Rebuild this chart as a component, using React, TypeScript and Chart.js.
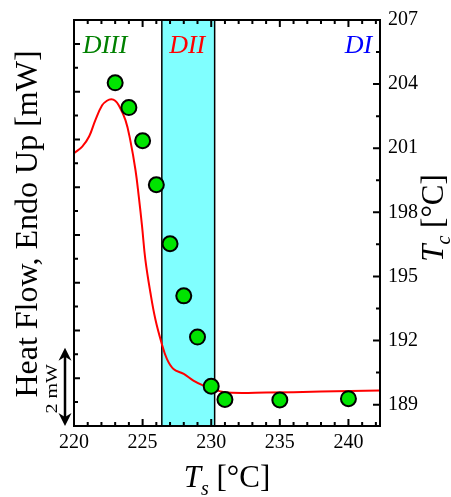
import React, { useEffect, useRef } from 'react';
import { Chart, registerables } from 'chart.js';

Chart.register(...registerables);

// ---- data ----
const tsValues = [223, 224, 225, 226, 227, 228, 229, 230, 231, 235, 240];
const tcValues = [204.06, 202.9, 201.35, 199.29, 196.53, 194.09, 192.16, 189.86, 189.24, 189.22, 189.28];

const dscT = [220.0, 220.6, 221.1, 221.55, 222.05, 222.4, 222.72, 223.0, 223.26, 223.75, 224.1, 224.48, 224.72, 224.96, 225.2, 225.57, 225.93, 226.37, 226.77, 227.25, 228.0, 228.7, 229.4, 230.0, 230.6, 231.5, 234.0, 238.0, 242.3];
const dscHeat = [11.42, 11.7, 12.12, 12.8, 13.43, 13.62, 13.68, 13.62, 13.43, 12.81, 11.97, 10.72, 9.61, 8.36, 6.97, 5.58, 4.47, 3.5, 2.81, 2.39, 2.18, 1.9, 1.7, 1.58, 1.46, 1.39, 1.4, 1.44, 1.49];

const xMajorTicks = [220, 225, 230, 235, 240];
const rightMajorTicks = [189, 192, 195, 198, 201, 204, 207];

const regionNames = ['DIII', 'DII', 'DI'];
const regionColors = ['#008000', '#ff0000', '#0000ff'];
const regionLabelX = [222.26, 228.25, 240.73];
const regionLabelY = 15.9;
const bandRange = [226.4, 230.25];
const arrowSpan = [0, 3.28]; // 2 mW on the heat-flow axis

const X_MIN = 220;
const X_MAX = 242.3;
const YL_MIN = 0;
const YL_MAX = 17;
const YR_MIN = 188;
const YR_MAX = 207;

const SERIF = 'Liberation Serif';

type Run = { text: string; font: string; dy: number };

function drawRuns(ctx: CanvasRenderingContext2D, runs: Run[], cx: number, cy: number, angle: number) {
  ctx.save();
  ctx.translate(cx, cy);
  ctx.rotate(angle);
  let total = 0;
  const widths = runs.map((r) => {
    ctx.font = r.font;
    const w = ctx.measureText(r.text).width;
    total += w;
    return w;
  });
  let x = -total / 2;
  ctx.fillStyle = '#000';
  ctx.textBaseline = 'alphabetic';
  ctx.textAlign = 'left';
  runs.forEach((r, i) => {
    ctx.font = r.font;
    ctx.fillText(r.text, x, r.dy);
    x += widths[i];
  });
  ctx.restore();
}

const decorPlugin = {
  id: 'decor',
  beforeDatasetsDraw(chart: any) {
    const { ctx, chartArea } = chart;
    const xs = chart.scales.x;
    const x0 = xs.getPixelForValue(bandRange[0]);
    const x1 = xs.getPixelForValue(bandRange[1]);
    ctx.save();
    ctx.fillStyle = '#80ffff';
    ctx.fillRect(x0, chartArea.top, x1 - x0, chartArea.bottom - chartArea.top);
    ctx.strokeStyle = '#000';
    ctx.lineWidth = 1.5;
    ctx.beginPath();
    ctx.moveTo(x0, chartArea.top);
    ctx.lineTo(x0, chartArea.bottom);
    ctx.moveTo(x1, chartArea.top);
    ctx.lineTo(x1, chartArea.bottom);
    ctx.stroke();
    ctx.restore();
  },
  afterDatasetsDraw(chart: any) {
    const { ctx, chartArea } = chart;
    const { left, right, top, bottom } = chartArea;
    const xs = chart.scales.x;
    const yl = chart.scales.yL;
    const yr = chart.scales.yR;
    ctx.save();
    ctx.strokeStyle = '#000';
    ctx.lineWidth = 2;
    ctx.lineCap = 'butt';
    // ticks
    ctx.beginPath();
    xs.ticks.forEach((t: any) => {
      const p = xs.getPixelForValue(t.value);
      const len = xMajorTicks.includes(t.value) ? 7 : 4;
      ctx.moveTo(p, bottom);
      ctx.lineTo(p, bottom - len);
      ctx.moveTo(p, top);
      ctx.lineTo(p, top + len);
    });
    yl.ticks.forEach((t: any) => {
      const p = yl.getPixelForValue(t.value);
      const len = t.value % 2 === 0 ? 6 : 4;
      ctx.moveTo(left, p);
      ctx.lineTo(left + len, p);
    });
    yr.ticks.forEach((t: any) => {
      const p = yr.getPixelForValue(t.value);
      const len = rightMajorTicks.includes(t.value) ? 7 : 4;
      ctx.moveTo(right, p);
      ctx.lineTo(right - len, p);
    });
    ctx.stroke();
    // frame
    ctx.strokeRect(left, top, right - left, bottom - top);

    // region labels
    ctx.font = `italic 26px "${SERIF}"`;
    ctx.textAlign = 'center';
    ctx.textBaseline = 'middle';
    regionNames.forEach((n, i) => {
      ctx.fillStyle = regionColors[i];
      ctx.fillText(n, xs.getPixelForValue(regionLabelX[i]), yl.getPixelForValue(regionLabelY));
    });

    // 2 mW arrow
    const ax = 65;
    const ay0 = yl.getPixelForValue(arrowSpan[0]);
    const ay1 = yl.getPixelForValue(arrowSpan[1]);
    ctx.fillStyle = '#000';
    ctx.lineWidth = 2.5;
    ctx.beginPath();
    ctx.moveTo(ax, ay1 + 8);
    ctx.lineTo(ax, ay0 - 8);
    ctx.stroke();
    const head = (yTip: number, dir: number) => {
      ctx.beginPath();
      ctx.moveTo(ax, yTip);
      ctx.lineTo(ax - 6.5, yTip + dir * 13);
      ctx.lineTo(ax, yTip + dir * 9);
      ctx.lineTo(ax + 6.5, yTip + dir * 13);
      ctx.closePath();
      ctx.fill();
    };
    head(ay1, 1);
    head(ay0, -1);
    ctx.restore();

    // "2 mW"
    ctx.save();
    ctx.translate(57, (ay0 + ay1) / 2 + 2);
    ctx.rotate(-Math.PI / 2);
    ctx.scale(1.25, 1);
    ctx.font = `16px "${SERIF}"`;
    ctx.textAlign = 'center';
    ctx.textBaseline = 'alphabetic';
    ctx.fillStyle = '#000';
    ctx.fillText('2 mW', 0, 0);
    ctx.restore();

    // axis titles
    drawRuns(ctx, [
      { text: 'T', font: `italic 31px "${SERIF}"`, dy: 0 },
      { text: 's', font: `italic 20px "${SERIF}"`, dy: 8 },
      { text: ' [°C]', font: `31px "${SERIF}"`, dy: 0 },
    ], 227, 487, 0);
    drawRuns(ctx, [
      { text: 'Heat Flow, Endo Up [mW]', font: `32px "${SERIF}"`, dy: 0 },
    ], 37, 224, -Math.PI / 2);
    drawRuns(ctx, [
      { text: 'T', font: `italic 31px "${SERIF}"`, dy: 0 },
      { text: 'c', font: `italic 20px "${SERIF}"`, dy: 7 },
      { text: ' [°C]', font: `31px "${SERIF}"`, dy: 0 },
    ], 443, 218, -Math.PI / 2);
  },
};

export default function App() {
  const ref = useRef<HTMLCanvasElement | null>(null);
  useEffect(() => {
    document.body.style.margin = '0';
    const canvas = ref.current;
    if (!canvas) return;
    const scatterData = tsValues.map((x, i) => ({ x, y: tcValues[i] }));
    const lineData = dscT.map((x, i) => ({ x, y: dscHeat[i] }));
    const chart = new Chart(canvas, {
      type: 'scatter',
      data: {
        datasets: [
          {
            label: 'Tc',
            data: scatterData,
            yAxisID: 'yR',
            pointRadius: 7.5,
            pointBorderWidth: 2,
            borderColor: '#000',
            backgroundColor: '#00e400',
            pointBackgroundColor: '#00e400',
            pointBorderColor: '#000',
            showLine: false,
          } as any,
          {
            label: 'DSC',
            data: lineData,
            yAxisID: 'yL',
            showLine: true,
            borderColor: '#ff0000',
            borderWidth: 2,
            pointRadius: 0,
            tension: 0.4,
          } as any,
        ],
      },
      options: {
        animation: false,
        responsive: false,
        events: [],
        layout: { padding: { top: 18, left: 0, right: 0, bottom: 0 } },
        plugins: { legend: { display: false }, tooltip: { enabled: false } },
        scales: {
          x: {
            type: 'linear',
            position: 'bottom',
            min: X_MIN,
            max: X_MAX,
            afterBuildTicks: (s: any) => {
              const t = [];
              for (let v = 220; v <= 242; v++) t.push({ value: v });
              s.ticks = t;
            },
            afterFit: (s: any) => {
              s.height = 71;
            },
            ticks: {
              autoSkip: false,
              maxRotation: 0,
              padding: 5,
              color: '#000',
              font: { family: SERIF, size: 20 },
              callback: (v: any) => (xMajorTicks.includes(v) ? String(v) : ''),
            },
            grid: { display: false, drawTicks: false },
            border: { display: false },
          },
          yL: {
            type: 'linear',
            position: 'left',
            min: YL_MIN,
            max: YL_MAX,
            afterBuildTicks: (s: any) => {
              const t = [];
              for (let v = 0; v <= 17; v++) t.push({ value: v });
              s.ticks = t;
            },
            afterFit: (s: any) => {
              s.width = 74;
            },
            ticks: { display: false },
            grid: { display: false, drawTicks: false },
            border: { display: false },
          },
          yR: {
            type: 'linear',
            position: 'right',
            min: YR_MIN,
            max: YR_MAX,
            afterBuildTicks: (s: any) => {
              const t = [];
              for (let v = 189; v <= 207; v += 1.5) t.push({ value: v });
              s.ticks = t;
            },
            afterFit: (s: any) => {
              s.width = 71;
            },
            ticks: {
              autoSkip: false,
              padding: 8,
              color: '#000',
              font: { family: SERIF, size: 20 },
              callback: (v: any) => (rightMajorTicks.includes(v) ? String(v) : ''),
            },
            grid: { display: false, drawTicks: false },
            border: { display: false },
          },
        },
      },
      plugins: [decorPlugin],
    });
    return () => chart.destroy();
  }, []);
  return (
    <div style={{ width: 451, height: 497, background: '#fff' }}>
      <canvas ref={ref} width={451} height={497} style={{ width: 451, height: 497, display: 'block' }} />
    </div>
  );
}
